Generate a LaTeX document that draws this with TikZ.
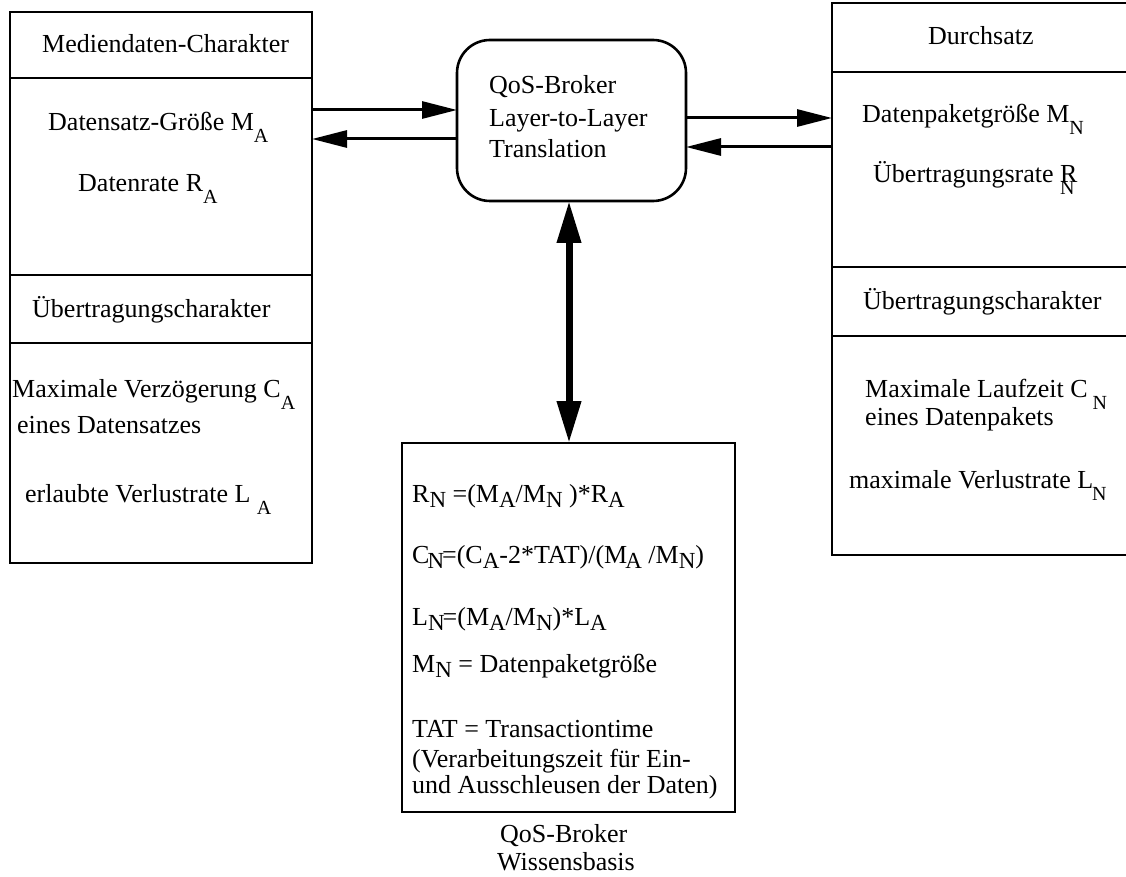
\documentclass[tikz,border=0pt]{standalone}
\usepackage{fontspec}
\setmainfont{Liberation Serif}
\usetikzlibrary{arrows.meta}

% deep, slightly smaller subscript used in the parameter boxes
\newcommand\lowsub[1]{\raisebox{-12pt}{\fontsize{20}{20}\selectfont #1}}
% shallow subscript used in the formula box
\newcommand\fsub[1]{\raisebox{-5pt}{\fontsize{23}{23}\selectfont #1}}

\begin{document}
\begin{tikzpicture}[x=1pt,y=-1pt,
  frame/.style={draw, line width=2.6pt, anchor=north west, inner sep=0pt, outer sep=0pt},
  txt/.style={inner sep=0pt, anchor=base west, font=\fontsize{26}{30}\selectfont},
  arr/.style={line width=3pt, -{Triangle[length=35pt,width=17pt]}},
  dbl/.style={line width=7pt, {Triangle[length=42pt,width=23pt]}-{Triangle[length=42pt,width=23pt]}}]

\useasboundingbox (0,0) rectangle (1126,877);
\clip (0,0) rectangle (1126,877);

% left column: application-layer parameters
\node[frame, minimum width=302pt, minimum height=66pt]  (lhead)  at (10,12)  {};
\node[frame, minimum width=302pt, minimum height=197pt] (lbody)  at (10,78)  {};
\node[frame, minimum width=302pt, minimum height=68pt]  (lhead2) at (10,275) {};
\node[frame, minimum width=302pt, minimum height=220pt] (lbody2) at (10,343) {};

\node[txt] (t1) at (42,53)  {Mediendaten-Charakter};
\node[txt] (t2) at (48,131) {Datensatz-Größe M\lowsub{A}};
\node[txt] (t3) at (78,192) {Datenrate R\lowsub{A}};
\node[txt] (t4) at (32,317) {Übertragungscharakter};
\node[txt] (t5) at (12,397) {Maximale Verzögerung C\lowsub{A}};
\node[txt] (t6) at (17,433) {eines Datensatzes};
\node[txt] (t7) at (25,502) {erlaubte Verlustrate L \lowsub{A}};

% right column: network-layer parameters (open towards the right edge)
\node[frame, minimum width=310pt, minimum height=69pt]  (rhead)  at (832,3)   {};
\node[frame, minimum width=310pt, minimum height=195pt] (rbody)  at (832,72)  {};
\node[frame, minimum width=310pt, minimum height=69pt]  (rhead2) at (832,267) {};
\node[frame, minimum width=310pt, minimum height=219pt] (rbody2) at (832,336) {};

\node[txt] (r1) at (928,45)  {Durchsatz};
\node[txt] (r2) at (862,123) {Datenpaketgröße M\lowsub{N}};
\node[txt] (r3) at (873,183) {Übertragungsrate \rlap{R}\lowsub{N}};
\node[txt] (r4) at (863,309) {Übertragungscharakter};
\node[txt] (r5) at (865,397) {Maximale Laufzeit C\kern5pt\lowsub{N}};
\node[txt] (r6) at (865,425) {eines Datenpakets};
\node[txt] (r7) at (849,488) {maximale Verlustrate L\kern-1pt\lowsub{N}};

% translation unit
\node[draw, line width=2.6pt, rounded corners=33pt, minimum width=229pt, minimum height=161pt,
      inner sep=0pt, outer sep=0pt] (broker) at (571.5,120.5) {};
\node[txt] (b1) at (489,94)  {QoS-Broker};
\node[txt] (b2) at (489,127) {Layer-to-Layer};
\node[txt] (b3) at (489,158) {Translation};

% knowledge base
\node[frame, minimum width=333pt, minimum height=369pt] (wissen) at (402,443) {};
\node[txt] (f1) at (412,502) {R\fsub{N} =(M\fsub{A}/M\fsub{N} )*R\fsub{A}};
\node[txt] (f2) at (412,563) {C\kern-2pt\fsub{N}\kern-2pt=(C\fsub{A}-2*TAT)/(M\kern-2pt\fsub{A} /M\fsub{N})};
\node[txt] (f3) at (412,625) {L\fsub{N}\kern-2pt=(M\fsub{A}/M\fsub{N})*L\fsub{A}};
\node[txt] (f4) at (412,672) {M\fsub{N} = Datenpaketgröße};
\node[txt] (f5) at (412,737) {TAT = Transactiontime};
\node[txt] (f6) at (412,767) {(Verarbeitungszeit für Ein-};
\node[txt] (f7) at (412,793) {und Ausschleusen der Daten)};
\node[txt] (w1) at (500,842) {QoS-Broker};
\node[txt] (w2) at (497,870) {Wissensbasis};

% connector heights
\coordinate (la) at (0,110);
\coordinate (lb) at (0,139);
\coordinate (ra) at (0,118);
\coordinate (rb) at (0,147);
\coordinate (vx) at (569,0);

\draw[arr] (lbody.east |- la) -- (broker.west |- la);
\draw[arr] (broker.west |- lb) -- (lbody.east |- lb);
\draw[arr] (broker.east |- ra) -- (rbody.west |- ra);
\draw[arr] (rbody.west |- rb) -- (broker.east |- rb);
\draw[dbl] (broker.south -| vx) -- (wissen.north -| vx);
\end{tikzpicture}
\end{document}
